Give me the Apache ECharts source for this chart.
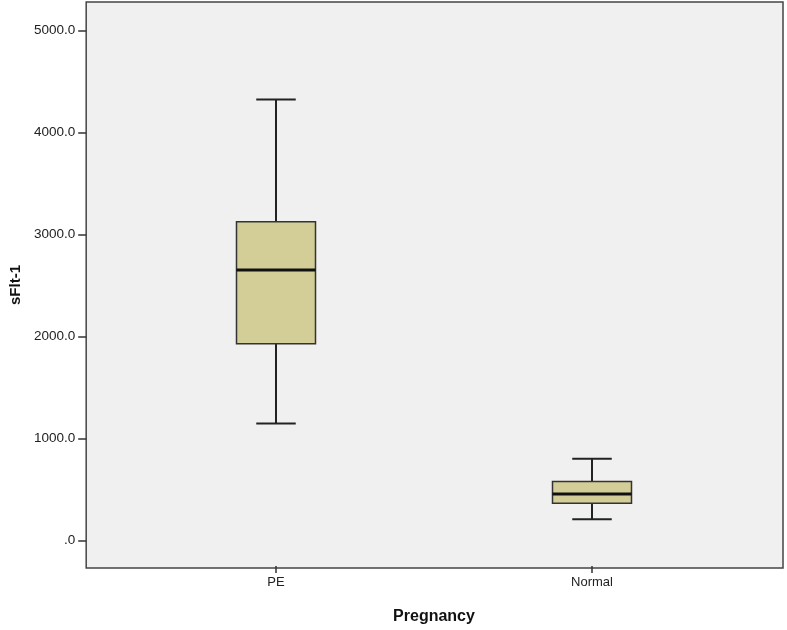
<!DOCTYPE html>
<html><head><meta charset="utf-8">
<script src="https://cdn.jsdelivr.net/npm/echarts@6/dist/echarts.min.js"></script>
<style>html,body{margin:0;padding:0;background:#fff}#c{width:787px;height:630px}</style>
</head><body><div id="c"></div>
<script>
var categories = ['PE', 'Normal'];
// [min, Q1, median, Q3, max]
var peStats = [1134, 1919, 2644, 3118, 4321];
var normalStats = [193, 350, 441, 563, 788];
var yTicks = [0, 1000, 2000, 3000, 4000, 5000];
var yMin = -268, yMax = 5281;

var stats = [peStats, normalStats];
var seriesData = stats.map(function (s, i) { return [i].concat(s); });

var chart = echarts.init(document.getElementById('c'));
var font = '"Liberation Sans", Arial, sans-serif';

function renderItem(params, api) {
  var idx = api.value(0);
  var pMin = api.coord([idx, api.value(1)]);
  var pQ1 = api.coord([idx, api.value(2)]);
  var pMed = api.coord([idx, api.value(3)]);
  var pQ3 = api.coord([idx, api.value(4)]);
  var pMax = api.coord([idx, api.value(5)]);
  var band = api.size([1, 0])[0];
  var bw = band * 0.25;
  var cw = bw * 0.5;
  var x = pMed[0];
  var lineStyle = { stroke: '#222', lineWidth: 2 };
  return {
    type: 'group',
    children: [
      { type: 'line', shape: { x1: x, y1: pQ3[1], x2: x, y2: pMax[1] }, style: lineStyle },
      { type: 'line', shape: { x1: x, y1: pQ1[1], x2: x, y2: pMin[1] }, style: lineStyle },
      { type: 'line', shape: { x1: x - cw / 2, y1: pMax[1], x2: x + cw / 2, y2: pMax[1] }, style: lineStyle },
      { type: 'line', shape: { x1: x - cw / 2, y1: pMin[1], x2: x + cw / 2, y2: pMin[1] }, style: lineStyle },
      { type: 'rect', shape: { x: x - bw / 2, y: pQ3[1], width: bw, height: pQ1[1] - pQ3[1] },
        style: { fill: '#d3ce98', stroke: '#333', lineWidth: 1.5 } },
      { type: 'line', shape: { x1: x - bw / 2, y1: pMed[1], x2: x + bw / 2, y2: pMed[1] },
        style: { stroke: '#111', lineWidth: 3 } }
    ]
  };
}

chart.setOption({
  animation: false,
  backgroundColor: '#fff',
  grid: [
    { left: 84, top: 2, width: 699, height: 566, show: true, backgroundColor: '#f0f0f0',
      borderColor: '#444', borderWidth: 1.5 },
    { left: 118, top: 2, width: 632, height: 566 }
  ],
  xAxis: [
    { gridIndex: 0, type: 'value', min: 0, max: 1, show: false },
    { gridIndex: 1, type: 'category', data: categories, boundaryGap: true, position: 'bottom',
      axisLine: { show: false, onZero: false },
      axisTick: { show: true, alignWithLabel: true, length: 7, lineStyle: { color: '#333', width: 1.5 } },
      axisLabel: { color: '#222', fontSize: 13, fontFamily: font, margin: 10 },
      name: 'Pregnancy', nameLocation: 'middle', nameGap: 43,
      nameTextStyle: { fontSize: 16, fontWeight: 'bold', color: '#111', fontFamily: font }
    }
  ],
  yAxis: [
    { gridIndex: 0, type: 'value', min: yMin, max: yMax,
      axisLine: { show: false }, splitLine: { show: false },
      axisTick: { show: true, length: 8, customValues: yTicks, lineStyle: { color: '#333', width: 1.5 } },
      axisLabel: { customValues: yTicks, color: '#222', fontSize: 13.5, fontFamily: font, margin: 11,
        formatter: function (v) { return v === 0 ? '.0' : v.toFixed(1); } },
      name: 'sFlt-1', nameLocation: 'middle', nameGap: 62,
      nameTextStyle: { fontSize: 15, fontWeight: 'bold', color: '#111', fontFamily: font }
    },
    { gridIndex: 1, type: 'value', min: yMin, max: yMax, show: false }
  ],
  series: [{
    type: 'custom', xAxisIndex: 1, yAxisIndex: 1,
    renderItem: renderItem,
    encode: { x: 0, y: [1, 2, 3, 4, 5] },
    data: seriesData
  }]
});
</script></body></html>
